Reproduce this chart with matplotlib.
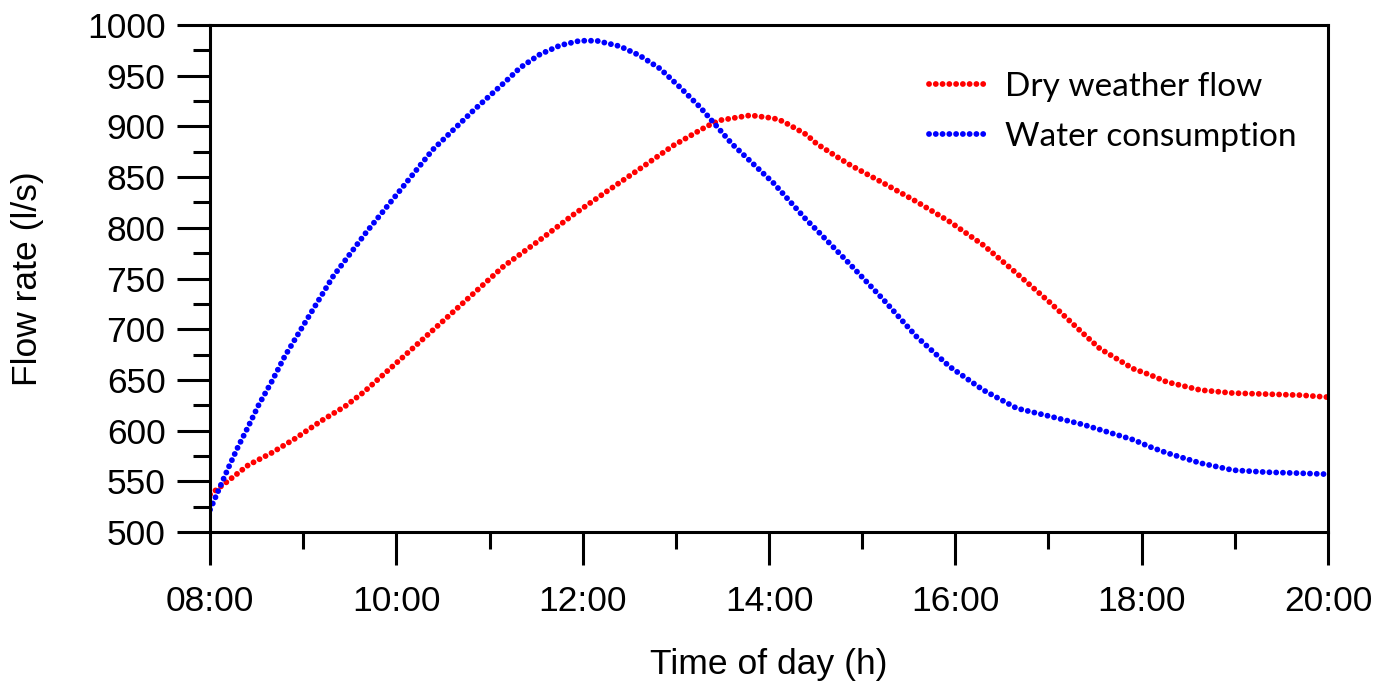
import matplotlib
matplotlib.use("Agg")
import matplotlib.pyplot as plt
from matplotlib.ticker import MultipleLocator, FixedLocator

# Data (hours of day, flow rate l/s)
dwf_hours = [8.00, 8.16, 8.41, 8.66, 8.91, 9.20, 9.45, 9.65, 10.04, 10.56, 11.15,
             11.54, 11.90, 12.26, 12.61, 12.97, 13.33, 13.47, 13.80, 14.05, 14.15,
             14.40, 14.51, 14.73, 14.87, 15.23, 15.58, 15.94, 16.30, 16.66, 17.02,
             17.37, 17.55, 17.73, 17.91, 18.09, 18.27, 18.63, 18.98, 19.34, 19.70,
             20.00]
dwf_values = [537, 548, 566, 578, 592, 610, 624, 638, 670, 713, 762,
              788, 813, 836, 858, 881, 900, 906, 911, 908, 905,
              892, 883, 870, 862, 844, 826, 806, 783, 755, 726,
              696, 681, 671, 661, 655, 648, 640, 637, 636, 635,
              633]

wc_hours = [8.00, 8.09, 8.20, 8.30, 8.41, 8.52, 8.66, 8.80, 8.97, 9.32, 9.68,
            10.04, 10.39, 10.83, 11.18, 11.33, 11.54, 11.76, 11.97, 12.15, 12.40,
            12.61, 12.83, 13.04, 13.26, 13.44, 13.60, 14.05, 14.40, 14.51, 14.87,
            15.23, 15.58, 15.94, 16.30, 16.66, 17.02, 17.37, 17.55, 17.73, 17.91,
            18.09, 18.27, 18.63, 18.98, 19.34, 19.70, 20.00]
wc_values = [522, 541, 564, 584, 604, 625, 648, 673, 699, 752, 796,
             837, 877, 916, 945, 958, 971, 980, 984.5, 984.5, 979,
             970, 957, 939, 919, 900, 883, 844, 808, 798, 764,
             729, 693, 663, 640, 622, 614, 606, 601, 596, 591,
             584, 578, 568, 561, 559, 558, 557]

series_labels = ["Dry weather flow", "Water consumption"]
x_tick_values = [8, 10, 12, 14, 16, 18, 20]
x_tick_labels = ["08:00", "10:00", "12:00", "14:00", "16:00", "18:00", "20:00"]

tick_font = "Liberation Sans"

fig = plt.figure(figsize=(13.93, 6.93), dpi=100)
ax = fig.add_axes([0.1508, 0.2323, 0.9533 - 0.1508, 0.9639 - 0.2323])

dot_style = dict(linestyle=(0, (0.01, 1.15)), dash_capstyle="round", linewidth=4.2)
ax.plot(dwf_hours, dwf_values, color="#ff0000", label=series_labels[0], **dot_style)
ax.plot(wc_hours, wc_values, color="#0000ff", label=series_labels[1], **dot_style)

ax.set_xlim(8, 20)
ax.set_ylim(500, 1000)
ax.xaxis.set_major_locator(FixedLocator(x_tick_values))
ax.set_xticklabels(x_tick_labels)
ax.xaxis.set_minor_locator(MultipleLocator(1))
ax.yaxis.set_major_locator(MultipleLocator(50))
ax.yaxis.set_minor_locator(MultipleLocator(25))

for sp in ax.spines.values():
    sp.set_linewidth(2.2)

ax.tick_params(axis="both", which="major", direction="out", length=24, width=2.2,
               labelsize=25.5)
ax.tick_params(axis="both", which="minor", direction="out", length=12, width=2.2)
ax.tick_params(axis="x", which="major", pad=14)
ax.tick_params(axis="y", which="major", pad=8)
for lab in ax.get_xticklabels() + ax.get_yticklabels():
    lab.set_fontfamily(tick_font)

ax.set_xlabel("Time of day (h)", fontsize=25.5, family=tick_font, labelpad=22)
ax.set_ylabel("Flow rate (l/s)", fontsize=25.5, family=tick_font, labelpad=31)

leg = ax.legend(loc="upper right", frameon=False, prop={"family": "Lato", "size": 24},
                handlelength=1.7, handletextpad=0.6, labelspacing=0.6,
                bbox_to_anchor=(0.999, 0.967))

fig.savefig("out.png", dpi=100)
